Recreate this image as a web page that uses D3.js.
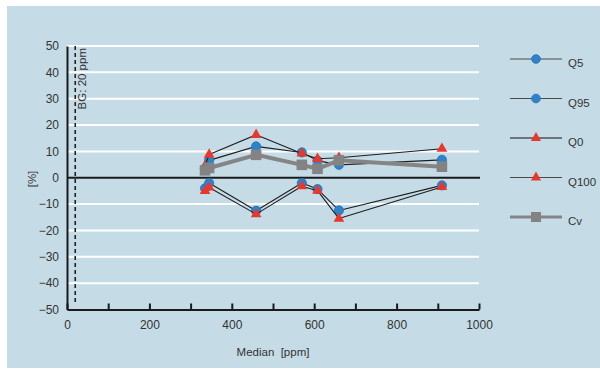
<!DOCTYPE html>
<html>
<head>
<meta charset="utf-8">
<script src="https://cdn.jsdelivr.net/npm/d3@7"></script>
<style>
  html, body { margin: 0; padding: 0; background: #fff; }
  svg { display: block; font-family: "Liberation Sans", Arial, sans-serif; }
</style>
</head>
<body>
<svg id="chart" width="600" height="374"></svg>
<script>
// Median concentration of each sample [ppm]
const median = [335, 345, 459, 570, 608, 660, 910];
// Relative deviations [%]
const q5   = [-4.0, -2.0, -12.5, -2.0, -4.3, -12.4, -2.9];
const q95  = [3.5, 6.6, 11.9, 9.6, 6.5, 4.9, 6.8];
const q0   = [-5.0, -3.7, -13.8, -3.2, -4.9, -15.5, -3.5];
const q100 = [4.5, 8.8, 16.3, 9.2, 7.2, 7.6, 11.0];
const cv   = [2.8, 3.7, 8.7, 4.9, 3.4, 6.6, 4.2];

const seriesNames = ["Q5", "Q95", "Q0", "Q100", "Cv"];
const xTickLabels = [0, 200, 400, 600, 800, 1000];
const yTickLabels = [50, 40, 30, 20, 10, 0, -10, -20, -30, -40, -50];
const background = 20; // BG level [ppm]

const svg = d3.select("#chart");

// panel background
svg.append("rect")
  .attr("x", 7).attr("y", 6).attr("width", 593).attr("height", 362)
  .attr("fill", "#c5dce6");

const x = d3.scaleLinear().domain([0, 1000]).range([67, 479]);
const y = d3.scaleLinear().domain([-50, 50]).range([309.5, 46]);

// white gridlines
svg.append("g")
  .selectAll("line")
  .data(yTickLabels.filter(v => v !== 0 && v !== -50))
  .join("line")
  .attr("x1", x(0)).attr("x2", x(1000))
  .attr("y1", d => y(d)).attr("y2", d => y(d))
  .attr("stroke", "#ffffff").attr("stroke-width", 2);

// background level marker
svg.append("line")
  .attr("x1", x(background)).attr("x2", x(background))
  .attr("y1", y(50)).attr("y2", y(-48))
  .attr("stroke", "#222").attr("stroke-width", 1.6)
  .attr("stroke-dasharray", "4,3");

svg.append("text")
  .attr("transform", `translate(${x(background) + 11},${y(50) + 2}) rotate(-90)`)
  .attr("text-anchor", "end")
  .attr("font-size", 11.5)
  .attr("fill", "#333")
  .text("BG: 20 ppm");

// zero line
svg.append("line")
  .attr("x1", x(0)).attr("x2", x(1000) + 1)
  .attr("y1", y(0)).attr("y2", y(0))
  .attr("stroke", "#1a1a1a").attr("stroke-width", 2);

// x axis: minor ticks every 100 pointing into the plot, labels every 200
const xAxis = d3.axisTop(x)
  .tickValues(d3.range(0, 1001, 100))
  .tickSize(6)
  .tickSizeOuter(0)
  .tickFormat("");
const gx = svg.append("g")
  .attr("transform", `translate(0,${y(-50)})`)
  .call(xAxis);
gx.select(".domain").attr("stroke", "#1a1a1a").attr("stroke-width", 2);
gx.selectAll(".tick line").attr("stroke", "#1a1a1a").attr("stroke-width", 2);

const xLabels = d3.axisBottom(x)
  .tickValues(xTickLabels)
  .tickFormat(d3.format("d"))
  .tickSize(0).tickPadding(11);
const gxl = svg.append("g")
  .attr("transform", `translate(0,${y(-50)})`)
  .call(xLabels);
gxl.select(".domain").remove();
gxl.selectAll("text")
  .attr("font-size", 12).attr("fill", "#333")
  .attr("font-family", "Liberation Sans, Arial, sans-serif");

// y axis
const yAxis = d3.axisLeft(y).tickValues(yTickLabels).tickSize(0).tickPadding(8);
const gy = svg.append("g")
  .attr("transform", `translate(${x(0)},0)`)
  .call(yAxis);
gy.select(".domain").attr("stroke", "#1a1a1a").attr("stroke-width", 2);
gy.selectAll("text")
  .attr("font-size", 12).attr("fill", "#333")
  .attr("font-family", "Liberation Sans, Arial, sans-serif");

// axis titles
svg.append("text")
  .attr("transform", "translate(36,179) rotate(-90)")
  .attr("text-anchor", "middle")
  .attr("font-size", 11.5).attr("fill", "#333")
  .text("[%]");

svg.append("text")
  .attr("x", 273).attr("y", 356)
  .attr("text-anchor", "middle")
  .attr("font-size", 11.5).attr("fill", "#333")
  .style("white-space", "pre")
  .text("Median  [ppm]");

// series styles
const styles = {
  Q5:   { values: q5,   line: "#1e1e1e", width: 1.1, marker: "circle" },
  Q95:  { values: q95,  line: "#1e1e1e", width: 1.1, marker: "circle" },
  Q0:   { values: q0,   line: "#1e1e1e", width: 1.1, marker: "triangle" },
  Q100: { values: q100, line: "#1e1e1e", width: 1.1, marker: "triangle" },
  Cv:   { values: cv,   line: "#858585", width: 4,   marker: "square" }
};

function drawMarker(g, kind, cx, cy, scale = 1) {
  if (kind === "circle") {
    g.append("circle")
      .attr("cx", cx).attr("cy", cy).attr("r", 4.6 * scale)
      .attr("fill", "#2d83c9").attr("stroke", "#2470b3").attr("stroke-width", 0.8);
  } else if (kind === "triangle") {
    g.append("path")
      .attr("transform", `translate(${cx},${cy})`)
      .attr("d", d3.symbol().type(d3.symbolTriangle).size(50 * scale * scale)())
      .attr("fill", "#e8382e");
  } else {
    g.append("path")
      .attr("transform", `translate(${cx},${cy})`)
      .attr("d", d3.symbol().type(d3.symbolSquare).size(112 * scale * scale)())
      .attr("fill", "#838383");
  }
}

const lineGen = d3.line().x(d => x(d[0])).y(d => y(d[1]));
const plot = svg.append("g");

seriesNames.forEach(name => {
  const s = styles[name];
  const pts = median.map((m, i) => [m, s.values[i]]);
  const g = plot.append("g");
  g.append("path")
    .datum(pts)
    .attr("d", lineGen)
    .attr("fill", "none")
    .attr("stroke", s.line)
    .attr("stroke-width", s.width)
    .attr("stroke-linejoin", "round");
  pts.forEach(p => drawMarker(g, s.marker, x(p[0]), y(p[1])));
});

// legend
const legend = svg.append("g");
const legendY = d3.scalePoint().domain(seriesNames).range([59, 217]);
const legendLine = { Q5: "#4a4a4a", Q95: "#4a4a4a", Q0: "#111", Q100: "#4a4a4a", Cv: "#858585" };
seriesNames.forEach(name => {
  const s = styles[name];
  const ly = legendY(name);
  legend.append("line")
    .attr("x1", 510).attr("x2", 562)
    .attr("y1", ly).attr("y2", ly)
    .attr("stroke", legendLine[name])
    .attr("stroke-width", name === "Cv" ? 3 : 1.1);
  drawMarker(legend, s.marker, 536, ly, 0.95);
  legend.append("text")
    .attr("x", 568).attr("y", ly + 8)
    .attr("font-size", 11.5).attr("fill", "#333")
    .text(name);
});
</script>
</body>
</html>
